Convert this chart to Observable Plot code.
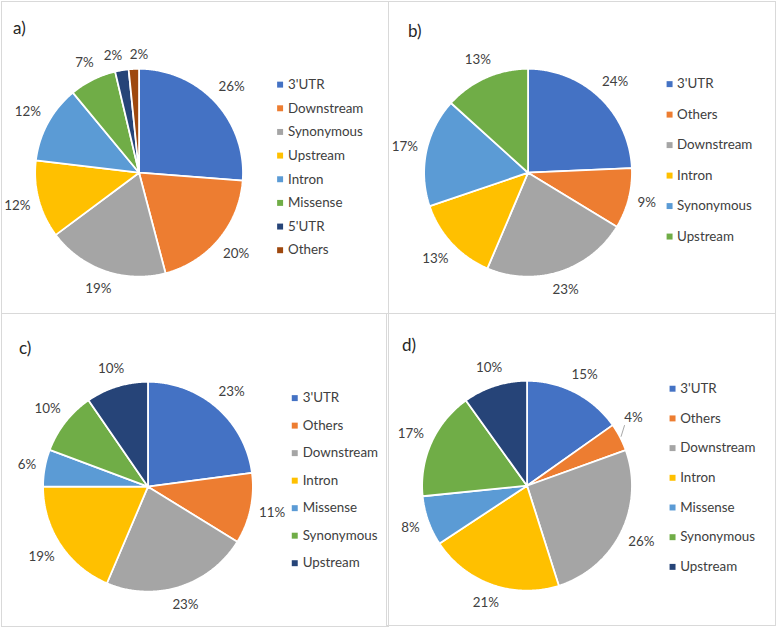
<!DOCTYPE html>
<html><head><meta charset="utf-8">
<script src="https://cdn.jsdelivr.net/npm/d3@7"></script>
<script src="https://cdn.jsdelivr.net/npm/@observablehq/plot@0.6"></script>
<style>
body{margin:0;background:#fff;font-family:Lato,"Open Sans",sans-serif;}
#root{position:relative;width:777px;height:628px;overflow:hidden;background:#fff;}
.panel{position:absolute;box-sizing:border-box;border:1px solid #d9d9d9;}
.panel svg{position:absolute;left:-1px;top:-1px;}
.letter{position:absolute;font-size:17px;color:#262626;line-height:17px;font-family:Lato,sans-serif;}
</style></head><body><div id="root"></div>
<script>
// Panel a
const catsA = ["3'UTR","Downstream","Synonymous","Upstream","Intron","Missense","5'UTR","Others"];
const valsA = [26.2,19.7,18.9,12.1,12.1,7.3,2.1,1.6];
const colorsA = ["#4472C4","#ED7D31","#A5A5A5","#FFC000","#5B9BD5","#70AD47","#264478","#9E480E"];
// Panel b
const catsB = ["3'UTR","Others","Downstream","Intron","Synonymous","Upstream"];
const valsB = [24.3,9.4,22.7,13.4,16.9,13.3];
const colorsB = ["#4472C4","#ED7D31","#A5A5A5","#FFC000","#5B9BD5","#70AD47"];
// Panel c
const catsC = ["3'UTR","Others","Downstream","Intron","Missense","Synonymous","Upstream"];
const valsC = [22.9,10.9,22.6,18.6,5.7,9.7,9.6];
const colorsC = ["#4472C4","#ED7D31","#A5A5A5","#FFC000","#5B9BD5","#70AD47","#264478"];
// Panel d
const catsD = ["3'UTR","Others","Downstream","Intron","Missense","Synonymous","Upstream"];
const valsD = [15.2,4.3,25.6,20.6,7.7,16.7,9.9];
const colorsD = ["#4472C4","#ED7D31","#A5A5A5","#FFC000","#5B9BD5","#70AD47","#264478"];
const letters = ["a)","b)","c)","d)"];

const FS = 13.5;
const layout = [
  {box:[1,1,388,313], cx:139, cy:173, r:105, leg:{sx:281.5, tx:289.5, y0:84, dy:23.9}, lt:[13,19], leader:0},
  {box:[388,1,388,313], cx:528, cy:173, r:105, leg:{sx:671, tx:678.5, y0:83.5, dy:30.8}, lt:[408,22], leader:0},
  {box:[1,313,388,314], cx:148, cy:487, r:106, leg:{sx:296.3, tx:304.3, y0:397.5, dy:27.8}, lt:[19,339], leader:0},
  {box:[386,313,390,313], cx:527, cy:486, r:106, leg:{sx:674, tx:681.7, y0:388, dy:30}, lt:[402,336], leader:5}
];
const data = [[catsA,valsA,colorsA],[catsB,valsB,colorsB],[catsC,valsC,colorsC],[catsD,valsD,colorsD]];
const root = document.getElementById("root");

data.forEach(([cats, vals, colors], pi) => {
  const L = layout[pi];
  const [ox, oy, W, H] = L.box;
  const r = L.r, ccx = L.cx - ox, ccy = L.cy - oy;
  const total = d3.sum(vals);
  const arcs = d3.pie().sort(null).value(d => d.v)(cats.map((c, i) => ({c, v: vals[i]})));
  const wedge = [];
  arcs.forEach(a => {
    const c = a.data.c;
    wedge.push({c, x: 0, y: 0});
    const n = Math.max(4, Math.ceil((a.endAngle - a.startAngle) / 0.01));
    for (let k = 0; k <= n; k++) {
      const t = a.startAngle + (a.endAngle - a.startAngle) * k / n;
      wedge.push({c, x: Math.sin(t), y: -Math.cos(t)});
    }
    wedge.push({c, x: 0, y: 0});
  });
  // label placement in pixel offsets from centre
  const hh = 7.5;
  const leaders = [];
  const labels = arcs.map(a => {
    const pct = Math.round(a.data.v / total * 100);
    const txt = pct + "%";
    const w = 7.6 * (txt.length - 1) + 10.6;
    let t = (a.startAngle + a.endAngle) / 2;
    const useLeader = L.leader && pct < L.leader;
    const tl = useLeader ? t - 5 * Math.PI / 180 : t;
    const pad = useLeader ? 10 : 8;
    const D = r + pad + (w / 2) * Math.abs(Math.sin(tl)) + hh * Math.abs(Math.cos(tl));
    const lab = {txt, w, px: D * Math.sin(tl), py: -D * Math.cos(tl)};
    if (useLeader) {
      const ax = r * Math.sin(t), ay = -r * Math.cos(t);
      const bx = Math.max(lab.px - w / 2, Math.min(ax, lab.px + w / 2));
      const by = Math.max(lab.py - hh, Math.min(ay, lab.py + hh));
      leaders.push({x1: (ax * 1.01) / r, y1: (ay * 1.01) / r, x2: bx / r, y2: by / r});
    }
    return lab;
  });
  // resolve horizontal overlaps between neighbouring labels
  for (let iter = 0; iter < 10; iter++) {
    for (let i = 0; i < labels.length; i++) for (let j = i + 1; j < labels.length; j++) {
      const A = labels[i], B = labels[j];
      if (Math.abs(A.py - B.py) < 2 * hh) {
        const need = (A.w + B.w) / 2 + 8;
        const dx = B.px - A.px;
        if (Math.abs(dx) < need) {
          const s = dx >= 0 ? 1 : -1;
          const push = (need - Math.abs(dx)) / 2;
          A.px -= s * push; B.px += s * push;
          A.py += 2; B.py += 2;
        }
      }
    }
  }
  const labelData = labels.map(l => ({txt: l.txt, x: l.px / r, y: l.py / r}));
  const legend = cats.map((c, i) => ({
    c,
    x: (L.leg.sx - L.cx) / r,
    tx: (L.leg.tx - L.cx) / r,
    y: (L.leg.y0 + i * L.leg.dy - L.cy) / r
  }));
  const svg = Plot.plot({
    width: W + 2, height: H + 2, margin: 0,
    x: {domain: [-1, 1], range: [ccx + 1 - r, ccx + 1 + r], axis: null},
    y: {domain: [-1, 1], range: [ccy + 1 - r, ccy + 1 + r], axis: null},
    color: {domain: cats, range: colors},
    style: {fontFamily: "Lato, sans-serif", fontSize: FS + "px", color: "#404040", background: "transparent", overflow: "visible"},
    marks: [
      Plot.line(wedge, {x: "x", y: "y", z: "c", fill: "c", stroke: "white", strokeWidth: 1.8, strokeLinejoin: "miter", curve: "linear"}),
      Plot.link(leaders, {x1: "x1", y1: "y1", x2: "x2", y2: "y2", stroke: "#a6a6a6", strokeWidth: 1}),
      Plot.text(labelData, {x: "x", y: "y", text: "txt", fill: "#404040", fontSize: FS}),
      Plot.dot(legend, {x: "x", y: "y", fill: "c", symbol: "square", r: 3.4}),
      Plot.text(legend, {x: "tx", y: "y", text: "c", textAnchor: "start", fill: "#404040", fontSize: FS})
    ]
  });
  const div = document.createElement("div");
  div.className = "panel";
  div.style.left = ox + "px"; div.style.top = oy + "px";
  div.style.width = W + "px"; div.style.height = H + "px";
  div.appendChild(svg);
  const lt = document.createElement("div");
  lt.className = "letter";
  lt.textContent = letters[pi];
  lt.style.left = (L.lt[0] - ox - 1) + "px";
  lt.style.top = (L.lt[1] - oy - 1) + "px";
  div.appendChild(lt);
  root.appendChild(div);
});
</script>
</body></html>
